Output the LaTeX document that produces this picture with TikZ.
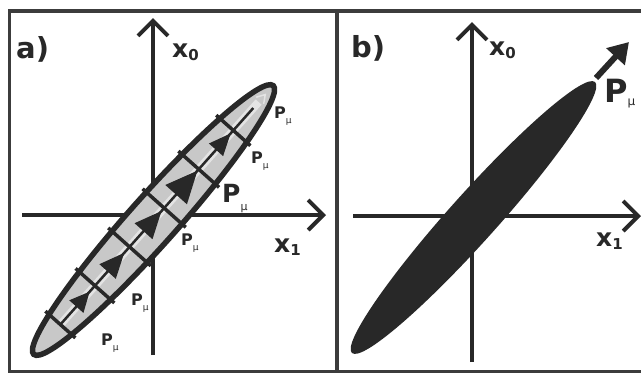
\documentclass[tikz,border=0pt]{standalone}
\usepackage{fontspec}
\setmainfont{DejaVu Sans}
\usetikzlibrary{arrows.meta, calc}
\definecolor{ink}{RGB}{40, 40, 40}
\definecolor{framegray}{RGB}{60, 60, 60}
\definecolor{cellgray}{RGB}{200, 200, 200}
\definecolor{shaftgray}{RGB}{228, 228, 228}
\newcommand{\axlbl}[2]{{\fontsize{25}{25}\selectfont\bfseries #1}\raisebox{-3pt}{\fontsize{15}{15}\selectfont\bfseries #2}}
\newcommand{\pmlbl}[3]{{\fontsize{#1}{#1}\selectfont\bfseries P}\raisebox{-#3}{\fontsize{#2}{#2}\selectfont μ}}

\begin{document}
\begin{tikzpicture}[
    x=1pt, y=-1pt,
    panel/.style={draw=framegray, line width=3.5pt},
    axis/.style={draw=ink, line width=4pt, -{Straight Barb[length=15pt, width=30pt]}},
    lbl/.style={text=ink, inner sep=0pt, anchor=base west},
  ]
    \useasboundingbox (0,0) rectangle (641,373);
    \fill[white] (0,0) rectangle (641,373);

    % frame of both panels
    \draw[panel] (9.5,11) rectangle (650,371.5);
    \draw[panel] (337,11) -- (337,371.5);

    % axes
    \coordinate (AX0S) at (153,355);
    \coordinate (AX0E) at (153,18);
    \coordinate (AX1S) at (22,215);
    \coordinate (AX1E) at (326,215);
    \coordinate (BX0S) at (472,362);
    \coordinate (BX0E) at (472,22);
    \coordinate (BX1S) at (353,216);
    \coordinate (BX1E) at (641,216);
    \draw[axis] (AX0S) -- (AX0E);
    \draw[axis] (AX1S) -- (AX1E);
    \draw[axis] (BX0S) -- (BX0E);
    \draw[axis] (BX1S) -- (BX1E);

    % a) cut into cells
    \begin{scope}[shift={(153.5,220)}, rotate=48.3]
      \fill[cellgray] (0,0) ellipse [x radius=180, y radius=24];
      \draw[shaftgray, line width=8pt] (-140,0) -- (158,0);
      \draw[ink, line width=2.5pt] (-140,0) -- (150,0);
      \foreach \tip/\len/\wid in {-96/20/19, -44/25/22, 12/27/24, 66/32/29, 116/22/19}
        \fill[ink] (\tip,0) -- (\tip-\len,\wid/2) -- (\tip-\len,-\wid/2) -- cycle;
      \draw[shaftgray, line width=1.5pt] (160,-5) -- (168,0) -- (160,5);
      \foreach \t in {-140,-88,-36,16,68,120}{
        \pgfmathsetmacro\hw{24*sqrt(1-(\t/180)*(\t/180))+5}
        \draw[ink, line width=3.5pt] (\t,-\hw) -- (\t,\hw);
      }
      \draw[ink, line width=5.5pt] (0,0) ellipse [x radius=180, y radius=24];
    \end{scope}

    % b) one body
    \begin{scope}[shift={(473.5,217.5)}, rotate=48.1]
      \fill[ink] (0,0) ellipse [x radius=182, y radius=24];
    \end{scope}
    \coordinate (BTAIL) at (596,78);
    \coordinate (BHEAD) at (629,42);
    \draw[ink, line width=6pt, -{Triangle[length=20pt, width=24pt]}] (BTAIL) -- (BHEAD);

    % labels
    \node[lbl, font=\fontsize{29}{29}\selectfont\bfseries] (ALBL) at (16,58) {a)};
    \node[lbl, font=\fontsize{29}{29}\selectfont\bfseries] (BLBL) at (351,57) {b)};
    \node[lbl] (AX0) at (172,57) {\axlbl{x}{0}};
    \node[lbl] (AX1) at (274,252) {\axlbl{x}{1}};
    \node[lbl] (BX0) at (489,55) {\axlbl{x}{0}};
    \node[lbl] (BX1) at (596,246) {\axlbl{x}{1}};

    \node[lbl] (PBIG) at (222,202) {\pmlbl{25}{11}{8pt}};
    \node[lbl] (P1) at (274,118) {\pmlbl{16}{9}{5pt}};
    \node[lbl] (P2) at (251,163) {\pmlbl{16}{9}{5pt}};
    \node[lbl] (P3) at (181,245) {\pmlbl{16}{9}{5pt}};
    \node[lbl] (P4) at (131,305) {\pmlbl{16}{9}{5pt}};
    \node[lbl] (P5) at (101,345) {\pmlbl{16}{9}{5pt}};
    \node[lbl] (PB) at (604,102) {\pmlbl{32}{12}{3pt}};
  \end{tikzpicture}
\end{document}
